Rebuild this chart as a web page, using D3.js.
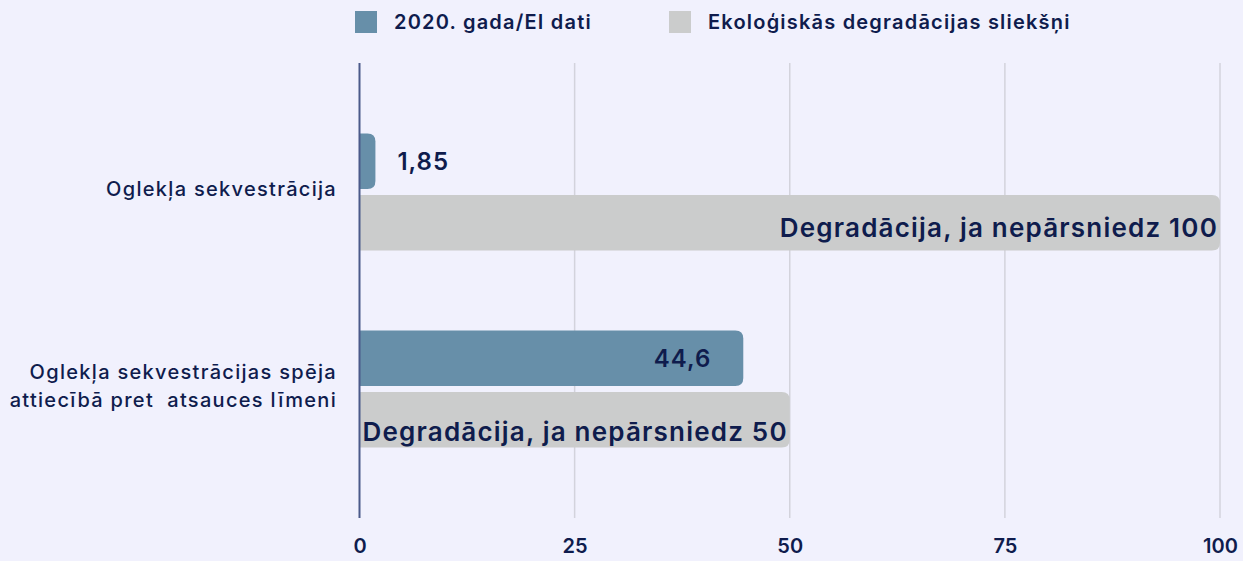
<!DOCTYPE html>
<html>
<head>
<meta charset="utf-8">
<script src="https://cdn.jsdelivr.net/npm/d3@7"></script>
<style>
    html, body { margin: 0; padding: 0; background: #f1f1fd; }
    svg { display: block; font-family: Inter, sans-serif; }
</style>
</head>
<body>
<div id="chart"></div>
<script>
// categories (each can span several lines)
const categories = [
    ["Oglekļa sekvestrācija"],
    ["Oglekļa sekvestrācijas spēja", "attiecībā pret  atsauces līmeni"]
];
const seriesNames = ["2020. gada/EI dati", "Ekoloģiskās degradācijas sliekšņi"];
const actualValues = [1.85, 44.6];
const thresholdValues = [100, 50];
const actualLabels = ["1,85", "44,6"];
const thresholdLabels = ["Degradācija, ja nepārsniedz 100", "Degradācija, ja nepārsniedz 50"];
const xTicks = [0, 25, 50, 75, 100];

const width = 1243, height = 561;
const colors = ["#678fa9", "#cbcccc"];
const textColor = "#0f1c4d";

const svg = d3.select("#chart").append("svg")
    .attr("width", width)
    .attr("height", height);

const x = d3.scaleLinear().domain([0, 100]).range([359.5, 1220]);

const y = d3.scaleBand()
    .domain(d3.range(categories.length))
    .range([63, 518])
    .paddingInner(0.406)
    .paddingOuter(0.358);

const ySub = d3.scaleBand()
    .domain([0, 1])
    .range([0, y.bandwidth()])
    .paddingInner(0.1);

// gridlines
svg.append("g")
    .selectAll("line")
    .data(xTicks.filter(d => d > 0))
    .join("line")
    .attr("x1", d => x(d)).attr("x2", d => x(d))
    .attr("y1", 63).attr("y2", 518)
    .attr("stroke", "#d3d3dc")
    .attr("stroke-width", 1.5);

// x tick labels
const xAxis = svg.append("g")
    .attr("transform", "translate(0, 518)")
    .call(d3.axisBottom(x).tickValues(xTicks).tickSize(0).tickPadding(21));
xAxis.select(".domain").remove();
xAxis.selectAll("text")
    .attr("fill", textColor)
    .style("font-size", "20px")
    .style("font-weight", 600)
    .style("font-family", "Inter, sans-serif");

// rounded right end bar
function barPath(x0, x1, y0, h, r) {
    r = Math.min(r, (x1 - x0), h / 2);
    return `M${x0},${y0}H${x1 - r}Q${x1},${y0} ${x1},${y0 + r}V${y0 + h - r}Q${x1},${y0 + h} ${x1 - r},${y0 + h}H${x0}Z`;
}

const rows = categories.map((c, i) => ({
    i: i,
    name: c,
    actual: actualValues[i],
    threshold: thresholdValues[i],
    actualLabel: actualLabels[i],
    thresholdLabel: thresholdLabels[i]
}));

const groups = svg.append("g")
    .selectAll("g")
    .data(rows)
    .join("g")
    .attr("transform", d => `translate(0, ${y(d.i)})`);

groups.append("path")
    .attr("fill", colors[0])
    .attr("d", d => barPath(x(0), x(d.actual), ySub(0), ySub.bandwidth(), 8));

groups.append("path")
    .attr("fill", colors[1])
    .attr("d", d => barPath(x(0), x(d.threshold), ySub(1), ySub.bandwidth(), 8));

// value labels on the blue bars
groups.append("text")
    .attr("x", d => (x(d.actual) - x(0) > 100) ? x(d.actual) - 32 : x(d.actual) + 22)
    .attr("y", ySub(0) + ySub.bandwidth() / 2)
    .attr("dy", "0.35em")
    .attr("text-anchor", d => (x(d.actual) - x(0) > 100) ? "end" : "start")
    .attr("fill", textColor)
    .style("font-size", "24px")
    .style("font-weight", 600)
    .style("letter-spacing", "1px")
    .text(d => d.actualLabel);

// threshold labels on the grey bars
const labelShift = [5, 12];
groups.append("text")
    .attr("x", d => x(d.threshold) - 2)
    .attr("y", d => ySub(1) + ySub.bandwidth() / 2 + labelShift[d.i])
    .attr("dy", "0.35em")
    .attr("text-anchor", "end")
    .attr("fill", textColor)
    .style("font-size", "26px")
    .style("font-weight", 600)
    .style("letter-spacing", "1.2px")
    .text(d => d.thresholdLabel);

// category labels
groups.append("text")
    .attr("text-anchor", "end")
    .attr("fill", textColor)
    .attr("xml:space", "preserve")
    .style("font-size", "20px")
    .style("font-weight", 500)
    .style("letter-spacing", "1.3px")
    .each(function (d) {
        const lineH = 28;
        const cy = y.bandwidth() / 2 - 3 - (d.name.length - 1) * lineH / 2;
        d3.select(this).selectAll("tspan")
            .data(d.name)
            .join("tspan")
            .attr("x", 337)
            .attr("y", (t, k) => cy + k * lineH)
            .attr("dy", "0.35em")
            .text(t => t);
    });

// zero axis line
svg.append("line")
    .attr("x1", x(0)).attr("x2", x(0))
    .attr("y1", 63).attr("y2", 518)
    .attr("stroke", "#4b5a8a")
    .attr("stroke-width", 2);

// legend
const legendX = [355, 669];
const legend = svg.append("g")
    .selectAll("g")
    .data(seriesNames)
    .join("g")
    .attr("transform", (d, i) => `translate(${legendX[i]}, 11)`);

legend.append("rect")
    .attr("width", 22).attr("height", 22)
    .attr("fill", (d, i) => colors[i]);

legend.append("text")
    .attr("x", 39)
    .attr("y", 11)
    .attr("dy", "0.35em")
    .attr("fill", textColor)
    .style("font-size", "20px")
    .style("font-weight", 600)
    .style("letter-spacing", "1.2px")
    .text(d => d);
</script>
</body>
</html>
